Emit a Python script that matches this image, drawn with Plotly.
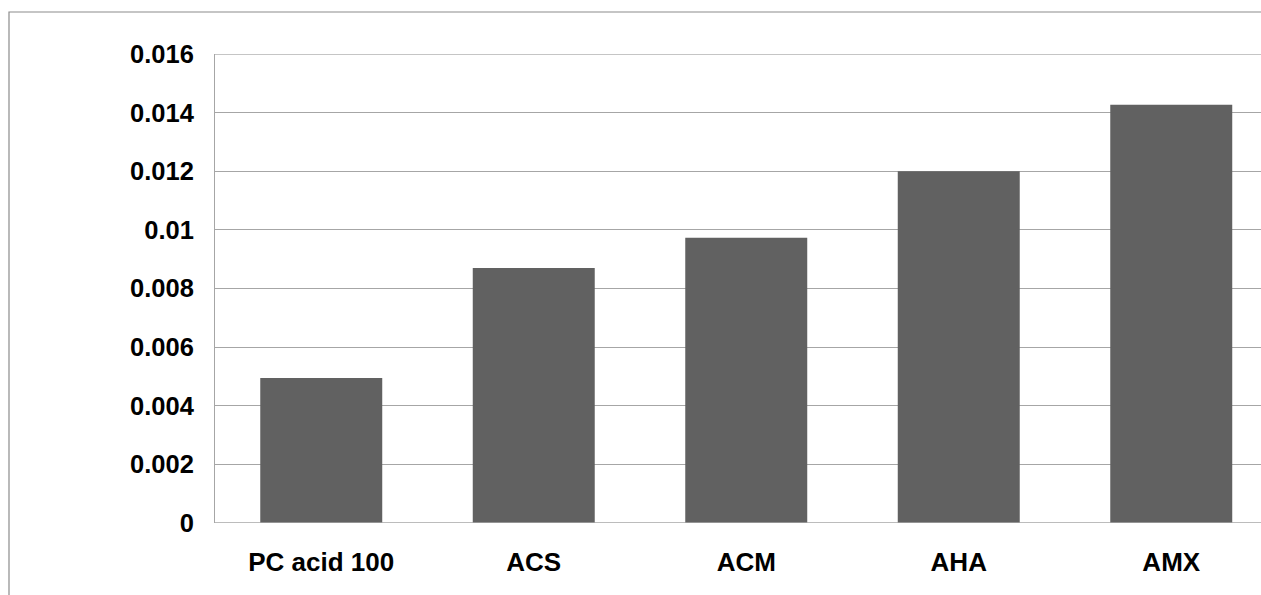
import plotly.graph_objects as go

categories = ["PC acid 100", "ACS", "ACM", "AHA", "AMX"]
values = [0.00495, 0.0087, 0.00973, 0.0120, 0.01427]
y_ticks = [0, 0.002, 0.004, 0.006, 0.008, 0.01, 0.012, 0.014, 0.016]
y_tick_labels = ["0", "0.002", "0.004", "0.006", "0.008", "0.01", "0.012", "0.014", "0.016"]

W, H = 1261, 595
L, R, T, B = 215, 0, 54, 72
plot_w = W - L - R
plot_h = H - T - B
cat_step = 212.5

fig = go.Figure()
fig.add_trace(go.Bar(
    x=categories, y=values,
    marker=dict(color="#616161", line=dict(width=0)),
    width=0.574,
))

fig.update_layout(
    width=W, height=H,
    margin=dict(l=L, r=R, t=T, b=B, pad=0),
    paper_bgcolor="white", plot_bgcolor="white",
    showlegend=False,
    font=dict(family="Liberation Sans, Arial, sans-serif", color="black"),
    xaxis=dict(
        type="category",
        range=[-0.5, -0.5 + plot_w / cat_step],
        showgrid=False, zeroline=False,
        showline=False,
        ticks="",
        tickfont=dict(size=26, family="Liberation Sans, Arial, sans-serif", weight="bold"),
        ticklabelstandoff=21,
    ),
    yaxis=dict(
        range=[0, 0.016],
        tickvals=y_ticks, ticktext=y_tick_labels,
        showgrid=True, gridcolor="#a6a6a6", gridwidth=1,
        zeroline=False,
        showline=True, linecolor="#a6a6a6", linewidth=1,
        ticks="",
        tickfont=dict(size=25.5, family="Liberation Sans, Arial, sans-serif", weight="bold"),
        ticklabelstandoff=15,
    ),
    shapes=[
        dict(type="line", xref="paper", yref="y", x0=0, x1=1, y0=0, y1=0,
             line=dict(color="#a6a6a6", width=1.5)),
        dict(type="line", xref="paper", yref="y", x0=0, x1=1, y0=0.016, y1=0.016,
             line=dict(color="#8c8c8c", width=1.2)),
        dict(type="rect", xref="paper", yref="paper",
             x0=(9 - L) / plot_w, x1=1.05,
             y0=-0.3, y1=(H - B - 12) / plot_h,
             line=dict(color="#8c8c8c", width=1.2), fillcolor="rgba(0,0,0,0)",
             layer="below"),
    ],
)

fig.write_html(
    "out.html",
    config={"displayModeBar": False},
    post_script="document.body.style.margin='0';document.body.style.overflow='hidden';",
)
